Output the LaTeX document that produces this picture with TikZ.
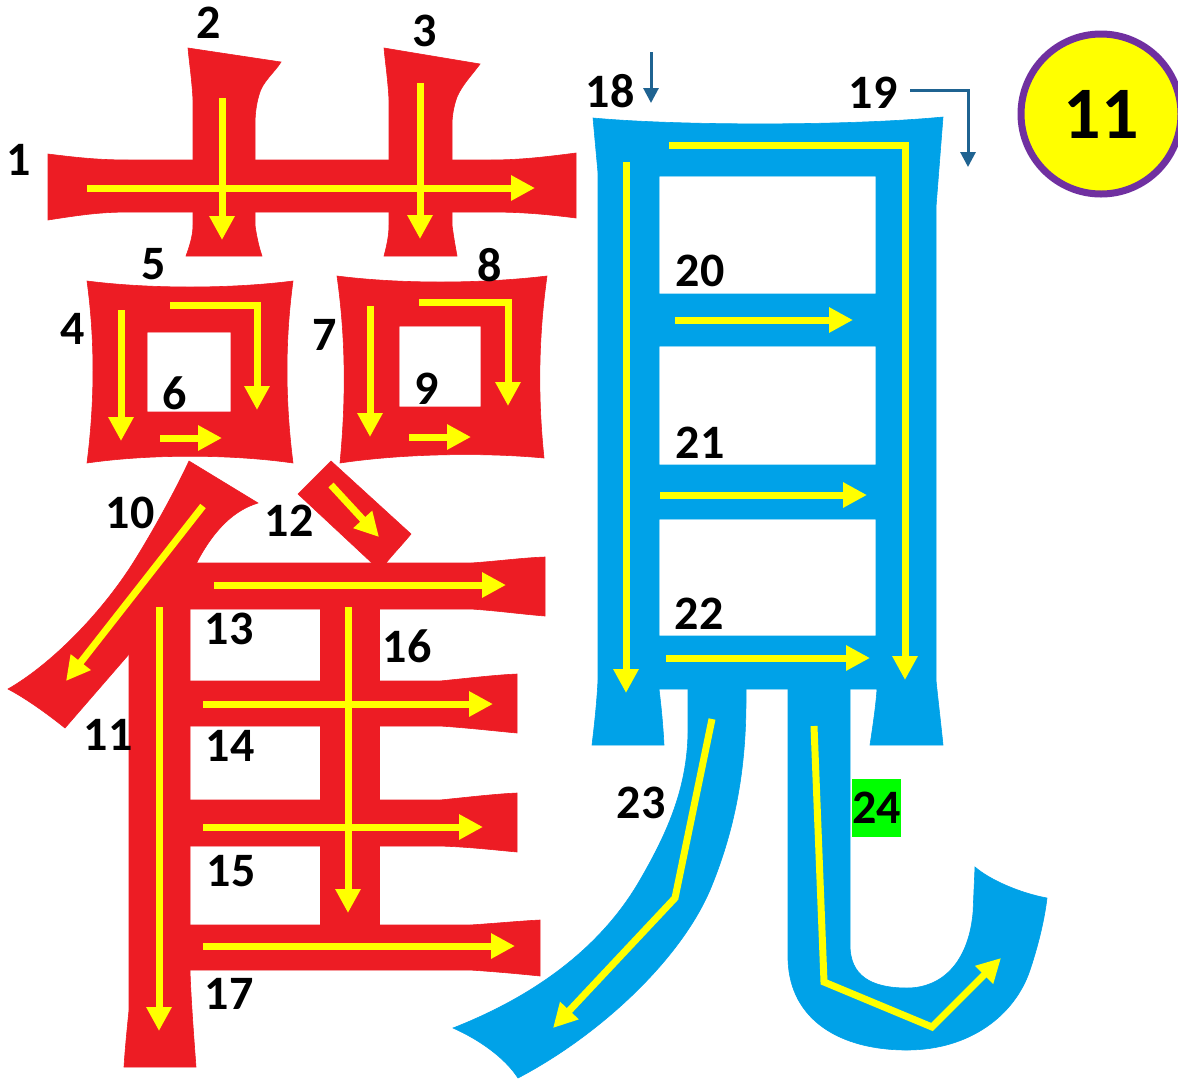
\documentclass[tikz,border=0pt]{standalone}
\usepackage{fontspec}
\setmainfont{Carlito}
\usetikzlibrary{arrows.meta}
\definecolor{kred}{HTML}{ED1C24}
\definecolor{kblue}{HTML}{00A2E8}
\definecolor{kyel}{HTML}{FFFF00}
\definecolor{kpur}{HTML}{7030A0}
\definecolor{kgrn}{HTML}{00FF00}
\definecolor{kteal}{HTML}{1F6391}
\begin{document}
\begin{tikzpicture}[x=1pt,y=-1pt,
  rs/.style={fill=kred, draw=kred, line width=0.6pt},
  bs/.style={fill=kblue, draw=kblue, line width=0.6pt},
  ya/.style={draw=kyel, line width=7pt, -{Triangle[length=24pt,width=24pt]}},
  ta/.style={draw=kteal, line width=3pt, -{Triangle[length=15pt,width=15pt]}},
  lbl/.style={font=\fontsize{48}{48}\selectfont\bfseries, inner sep=0pt, text=black}]
\useasboundingbox[fill=white] (0,0) rectangle (1178,1088);

% ---------- red strokes ----------
% stroke 1
\filldraw[rs] (48,154) .. controls (80,158) and (100,160) .. (130,160) -- (490,160)
  .. controls (520,160) and (545,157) .. (576,153) -- (576,218)
  .. controls (545,214) and (520,212) .. (490,212) -- (130,212)
  .. controls (100,212) and (80,215) .. (48,220) -- cycle;
% stroke 2
\filldraw[rs] (188,48) -- (281,62) .. controls (275,72) and (262,82) .. (259,95)
  .. controls (256,105) and (255,115) .. (255,125) -- (255,225)
  .. controls (257,240) and (260,250) .. (262,256) -- (186,256)
  .. controls (190,245) and (193,235) .. (193,225) -- (193,100)
  .. controls (192,80) and (189,60) .. (188,48) -- cycle;
% stroke 3
\filldraw[rs] (384,48) -- (480,64) .. controls (472,75) and (462,85) .. (457,97)
  .. controls (453,108) and (452,118) .. (452,125) -- (452,225)
  .. controls (454,240) and (456,250) .. (457,256) -- (384,256)
  .. controls (387,245) and (389,235) .. (389,225) -- (389,100)
  .. controls (388,80) and (385,60) .. (384,48) -- cycle;
% left box
\filldraw[rs, even odd rule] (87,281) .. controls (150,289) and (230,289) .. (293,281)
  .. controls (285,340) and (285,400) .. (293,463)
  .. controls (230,454) and (150,454) .. (87,463)
  .. controls (95,400) and (95,340) .. (87,281) -- cycle
  (147,332) rectangle (231,412);
% right box
\filldraw[rs, even odd rule] (337,276) .. controls (400,284) and (480,284) .. (547,276)
  .. controls (538,340) and (538,400) .. (544,458)
  .. controls (480,452) and (400,454) .. (340,463)
  .. controls (346,400) and (346,340) .. (337,276) -- cycle
  (399,326) rectangle (481,407);
% stroke 10
\filldraw[rs] (189,461) -- (258,503) .. controls (235,510) and (215,528) .. (197,562)
  -- (185,600) -- (150,640) -- (130,653) -- (65,728)
  .. controls (45,712) and (25,698) .. (8,689)
  .. controls (50,665) and (100,615) .. (133,563)
  .. controls (155,528) and (178,485) .. (189,461) -- cycle;
% stroke 11
\filldraw[rs] (129,653) -- (129,1010) .. controls (127,1030) and (125,1050) .. (124,1067)
  -- (196,1067) .. controls (194,1040) and (191,1000) .. (190,971)
  -- (190,563) -- (197,562) -- cycle;
% stroke 12
\filldraw[rs] (298,494) -- (331,461) -- (411,534) .. controls (402,545) and (394,553) .. (386,563)
  -- (372,563) -- cycle;
% stroke 13
\filldraw[rs] (190,563) -- (471,563) .. controls (500,561) and (520,558) .. (545,557)
  -- (545,616) .. controls (520,614) and (500,611) .. (471,609) -- (190,609) -- cycle;
% stroke 14
\filldraw[rs] (190,681) -- (440,681) .. controls (470,678) and (495,675) .. (517,674)
  -- (517,733) .. controls (495,731) and (470,728) .. (440,726) -- (190,726) -- cycle;
% stroke 15
\filldraw[rs] (190,800) -- (440,800) .. controls (470,797) and (495,794) .. (517,793)
  -- (517,852) .. controls (495,850) and (470,847) .. (440,846) -- (190,846) -- cycle;
% stroke 16
\filldraw[rs] (320,605) rectangle (379,930);
% stroke 17
\filldraw[rs] (190,925) -- (470,925) .. controls (500,923) and (520,921) .. (540,920)
  -- (540,976) .. controls (520,974) and (500,972) .. (470,970) -- (190,970) -- cycle;

% ---------- blue strokes ----------
\filldraw[bs, even odd rule] (593,118) .. controls (680,126) and (850,126) .. (943,117)
  -- (936,207) -- (936,680) .. controls (938,700) and (941,725) .. (943,745)
  -- (870,745) .. controls (873,725) and (876,705) .. (877,689)
  -- (659,689) .. controls (661,705) and (663,725) .. (664,745)
  -- (592,745) .. controls (595,720) and (597,700) .. (598,680)
  -- (598,173) -- cycle
  (659,176) rectangle (876,294)
  (659,346) rectangle (876,465)
  (659,519) rectangle (876,636);
% stroke 23
\filldraw[bs] (688,680) -- (688,733) .. controls (687,790) and (666,835) .. (640,880)
  .. controls (610,932) and (555,988) .. (453,1028)
  .. controls (480,1040) and (505,1058) .. (518,1078)
  .. controls (600,1035) and (680,960) .. (710,890)
  .. controls (735,830) and (746,770) .. (746,700) -- (746,680) -- cycle;
% stroke 24
\filldraw[bs] (788,680) -- (788,960) .. controls (790,1020) and (840,1050) .. (907,1050)
  .. controls (970,1050) and (1015,1015) .. (1030,970)
  .. controls (1040,940) and (1045,915) .. (1047,898)
  .. controls (1020,893) and (990,880) .. (975,867)
  -- (973,913) .. controls (968,965) and (940,988) .. (907,988)
  .. controls (870,988) and (850,975) .. (850,945) -- (850,680) -- cycle;

% ---------- yellow stroke arrows ----------
\draw[ya] (87,188) -- (535,188);
\draw[ya] (222,98) -- (222,240);
\draw[ya] (420,83) -- (420,239);
\draw[ya] (121,310) -- (121,441);
\draw[ya] (170,305) -- (257,305) -- (257,410);
\draw[ya] (160,438) -- (222,438);
\draw[ya] (370,306) -- (370,437);
\draw[ya] (419,302) -- (508,302) -- (508,406);
\draw[ya] (409,437) -- (471,437);
\draw[ya] (203,506) -- (66,681);
\draw[ya] (159,607) -- (159,1031);
\draw[ya] (331,485) -- (379,537);
\draw[ya] (214,585) -- (506,585);
\draw[ya] (203,704) -- (493,704);
\draw[ya] (203,827) -- (483,827);
\draw[ya] (348,607) -- (348,913);
\draw[ya] (203,946) -- (515,946);
\draw[ya] (626,162) -- (626,693);
\draw[ya] (669,145) -- (905,145) -- (905,680);
\draw[ya] (675,320) -- (853,320);
\draw[ya] (660,495) -- (867,495);
\draw[ya] (666,658) -- (870,658);
\draw[ya] (712,719) -- (675,898) -- (553,1028);
\draw[ya] (814,726) -- (824,982) -- (932,1027) -- (1001,958);

% ---------- small teal arrows ----------
\coordinate (a18s) at (651,52);
\coordinate (a18e) at (651,103);
\coordinate (a19s) at (910,90);
\coordinate (a19e) at (968,167);
\draw[ta] (a18s) -- (a18e);
\draw[ta] (a19s) -| (a19e);

% ---------- circle ----------
\node[circle, draw=kpur, line width=7pt, fill=kyel, minimum size=160pt, inner sep=0pt,
  font=\fontsize{74}{74}\selectfont\bfseries] (num) at (1101,114) {11};

% ---------- labels ----------
\node[lbl] (l1) at (19,160) {1};
\node[lbl] (l2) at (209,23) {2};
\node[lbl] (l3) at (425,31) {3};
\node[lbl] (l4) at (73,329) {4};
\node[lbl] (l5) at (154,264) {5};
\node[lbl] (l6) at (175,393) {6};
\node[lbl] (l7) at (325,335) {7};
\node[lbl] (l8) at (490,265) {8};
\node[lbl] (l9) at (427,389) {9};
\node[lbl] (l10) at (130,513) {10};
\node[lbl] (l11) at (108,735) {11};
\node[lbl] (l12) at (289,521) {12};
\node[lbl] (l13) at (229,629) {13};
\node[lbl] (l14) at (230,746) {14};
\node[lbl] (l15) at (231,871) {15};
\node[lbl] (l16) at (407,646) {16};
\node[lbl] (l17) at (229,994) {17};
\node[lbl] (l18) at (610,91) {18};
\node[lbl] (l19) at (873,93) {19};
\node[lbl] (l20) at (700,271) {20};
\node[lbl] (l21) at (700,443) {21};
\node[lbl] (l22) at (699,614) {22};
\node[lbl] (l23) at (641,803) {23};
\node[lbl, fill=kgrn, minimum width=49pt, minimum height=58pt] (l24) at (876.5,808) {24};
\end{tikzpicture}
\end{document}
